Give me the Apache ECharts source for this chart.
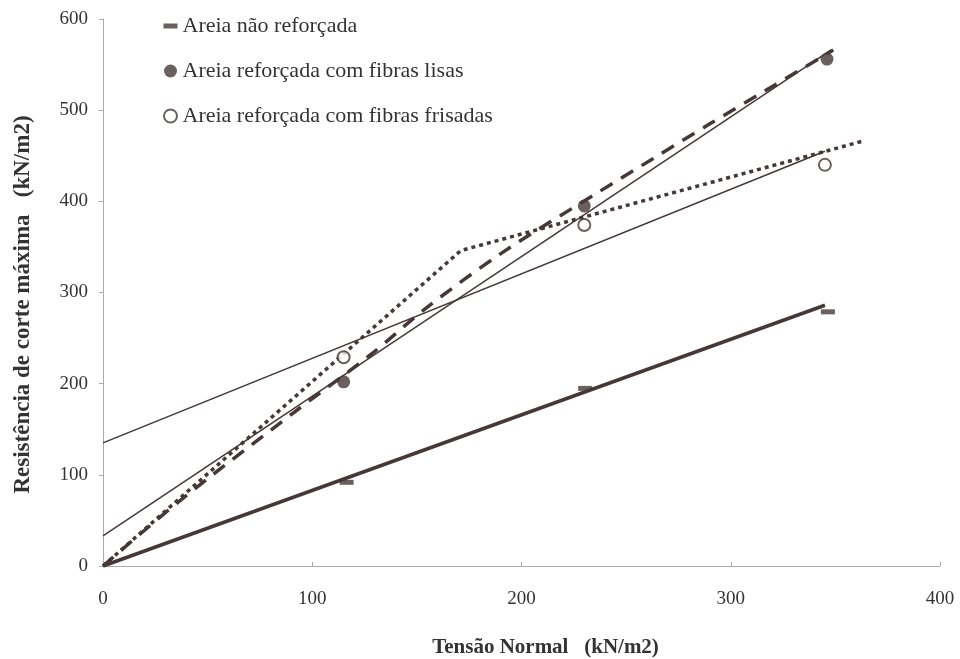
<!DOCTYPE html>
<html><head><meta charset="utf-8">
<script src="https://cdn.jsdelivr.net/npm/echarts@6/dist/echarts.min.js"></script>
<style>html,body{margin:0;padding:0;background:#fff}#c{width:960px;height:659px}</style>
</head><body><div id="c"></div>
<script>
// measured points
const naoRef = [[115, 94], [229, 197], [345, 281]];
const fibLisas = [[115, 202], [230, 395], [346, 556]];
const fibFrisadas = [[115, 229], [230, 374], [345, 440]];
// fitted lines
const fitNao = [[0, 0], [345, 286]];
const fitLisasSolid = [[0, 33], [348, 566]];
const fitLisasDashed = [[0, 0], [38, 74], [91, 168], [128, 232], [155, 284], [191, 344], [236, 409], [263, 447], [290, 485], [317, 522], [349, 566]];
const fitFrisSolid = [[0, 135], [345, 455]];
const fitFrisDotted = [[0, 0], [171, 346], [363, 466]];
const xTicks = [0, 100, 200, 300, 400];
const yTicks = [0, 100, 200, 300, 400, 500, 600];

const C = '#463838';
const serif = 'Liberation Serif, Times New Roman, serif';
const chart = echarts.init(document.getElementById('c'));
const line = (data, w, type, smooth) => ({
  type: 'line', data, symbol: 'none', silent: true, z: 2, smooth: smooth || false,
  lineStyle: { color: C, width: w, type: type || 'solid' }
});
chart.setOption({
  animation: false,
  grid: { left: 103, right: 20, top: 19, bottom: 93, containLabel: false, outerBoundsMode: 'none' },
  legend: {
    orient: 'vertical', left: 158, top: 10, itemGap: 23,
    itemWidth: 14, itemHeight: 13,
    textStyle: { fontFamily: serif, fontSize: 22, color: '#333' },
    data: [
      { name: 'Areia não reforçada', icon: 'path://M0,4h14v5h-14z' },
      { name: 'Areia reforçada com fibras lisas', icon: 'circle' },
      { name: 'Areia reforçada com fibras frisadas', icon: 'emptyCircle' }
    ]
  },
  xAxis: {
    type: 'value', min: 0, max: 400, interval: 100,
    name: 'Tensão Normal   (kN/m2)', nameLocation: 'middle', nameGap: 71,
    nameTextStyle: { fontFamily: serif, fontSize: 21, fontWeight: 'bold', color: '#333', padding: [0, 0, 0, 48] },
    axisLine: { lineStyle: { color: '#aaa', width: 1 } },
    axisTick: { inside: true, length: 4, lineStyle: { color: '#aaa' } },
    axisLabel: { fontFamily: serif, fontSize: 19, color: '#333', margin: 24 },
    splitLine: { show: false }
  },
  yAxis: {
    type: 'value', min: 0, max: 600, interval: 100,
    name: 'Resistência de corte máxima   (kN/m2)', nameLocation: 'middle', nameGap: 68,
    nameTextStyle: { fontFamily: serif, fontSize: 23, fontWeight: 'bold', color: '#333', padding: [0, 24, 0, 0] },
    axisLine: { show: true, lineStyle: { color: '#aaa', width: 1 } },
    axisTick: { show: true, length: 4, lineStyle: { color: '#aaa' } },
    axisLabel: { fontFamily: serif, fontSize: 19, color: '#333', margin: 15 },
    splitLine: { show: false }
  },
  series: [
    line(fitNao, 3.5),
    line(fitLisasSolid, 1.5),
    line(fitLisasDashed, 3.5, [14, 10], 0.3),
    line(fitFrisSolid, 1.5),
    line(fitFrisDotted, 3.5, [4, 4]),
    { name: 'Areia não reforçada', type: 'scatter', data: naoRef, symbol: 'rect', symbolSize: [14, 5],
      symbolOffset: [3, 2], itemStyle: { color: C }, z: 3 },
    { name: 'Areia reforçada com fibras lisas', type: 'scatter', data: fibLisas, symbol: 'circle', symbolSize: 13,
      itemStyle: { color: C }, z: 3 },
    { name: 'Areia reforçada com fibras frisadas', type: 'scatter', data: fibFrisadas, symbol: 'emptyCircle', symbolSize: 12,
      itemStyle: { color: C, borderWidth: 1.8, borderColor: C }, z: 3 }
  ]
});
</script></body></html>
